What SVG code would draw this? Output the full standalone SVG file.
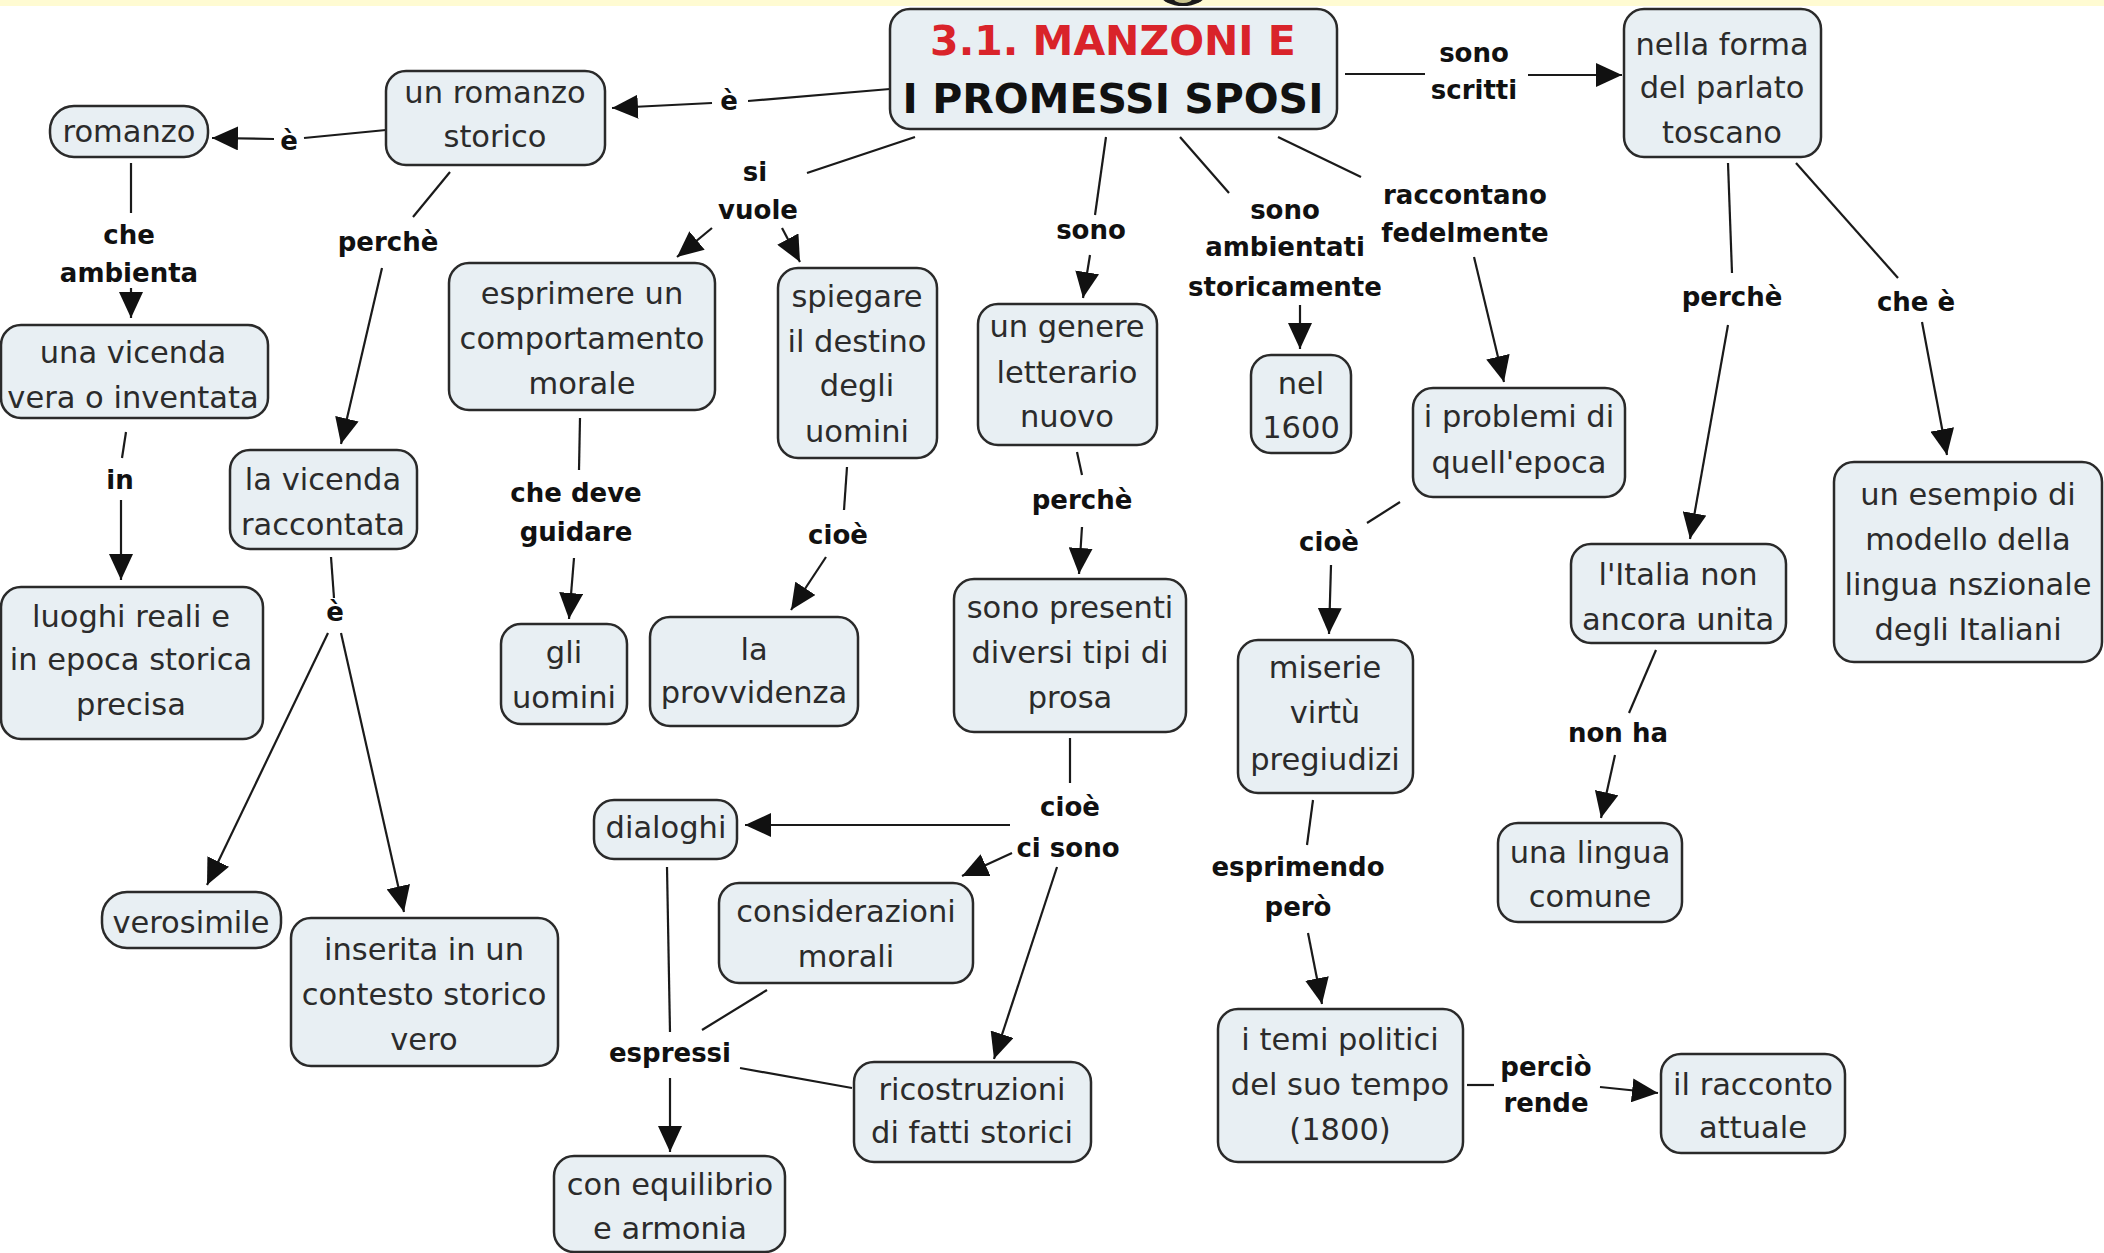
<svg xmlns="http://www.w3.org/2000/svg" width="2104" height="1253" viewBox="0 0 2104 1253">
<defs>
<style>
.node rect{fill:#E8EFF3;stroke:#2a2a2a;stroke-width:2.5}
.nt{font-family:"DejaVu Sans","Liberation Sans",sans-serif;font-size:30.5px;fill:#2b2b2b;text-anchor:middle}
.lb{font-family:"DejaVu Sans","Liberation Sans",sans-serif;font-size:26px;font-weight:bold;fill:#111;text-anchor:middle}
.title{font-family:"DejaVu Sans","Liberation Sans",sans-serif;font-size:41px;font-weight:bold;text-anchor:middle}
#connectors line{stroke:#1a1a1a;stroke-width:2.2;fill:none}
#connectors line.arr{marker-end:url(#ah)}
</style>
<marker id="ah" markerUnits="userSpaceOnUse" markerWidth="27" markerHeight="24" refX="26" refY="12" orient="auto" viewBox="0 0 27 24">
<path d="M0,0 L26,12 L0,24 Z" fill="#111"/>
</marker>
</defs>
<rect x="0" y="0" width="2104" height="1253" fill="#ffffff"/>
<rect x="0" y="0" width="2104" height="6" fill="#FFFBD2"/>
<ellipse cx="1183" cy="-5" rx="22" ry="11" fill="#1a1a1a"/>
<ellipse cx="1183" cy="-1" rx="9" ry="4" fill="#c9c48e"/>

<g id="connectors">
<line x1="890" y1="89" x2="748" y2="101"/>
<line class="arr" x1="712" y1="103" x2="612" y2="108"/>
<line x1="386" y1="130" x2="304" y2="138"/>
<line class="arr" x1="274" y1="139" x2="212" y2="138"/>
<line x1="131" y1="163" x2="131" y2="213"/>
<line class="arr" x1="131" y1="288" x2="131" y2="318"/>
<line x1="450" y1="172" x2="413" y2="217"/>
<line class="arr" x1="382" y1="268" x2="341" y2="444"/>
<line x1="126" y1="432" x2="122" y2="458"/>
<line class="arr" x1="121" y1="500" x2="121" y2="580"/>
<line x1="331" y1="557" x2="334" y2="598"/>
<line class="arr" x1="328" y1="633" x2="207" y2="885"/>
<line class="arr" x1="341" y1="633" x2="404" y2="912"/>
<line x1="915" y1="137" x2="807" y2="173"/>
<line class="arr" x1="712" y1="228" x2="677" y2="257"/>
<line class="arr" x1="782" y1="228" x2="800" y2="262"/>
<line x1="580" y1="418" x2="579" y2="470"/>
<line class="arr" x1="574" y1="558" x2="569" y2="619"/>
<line x1="847" y1="467" x2="844" y2="510"/>
<line class="arr" x1="826" y1="557" x2="791" y2="610"/>
<line x1="1106" y1="137" x2="1095" y2="215"/>
<line class="arr" x1="1090" y1="255" x2="1083" y2="298"/>
<line x1="1077" y1="452" x2="1082" y2="475"/>
<line class="arr" x1="1082" y1="527" x2="1079" y2="574"/>
<line x1="1070" y1="738" x2="1070" y2="783"/>
<line class="arr" x1="1010" y1="825" x2="745" y2="825"/>
<line class="arr" x1="1012" y1="853" x2="962" y2="876"/>
<line class="arr" x1="1057" y1="867" x2="994" y2="1059"/>
<line x1="1180" y1="137" x2="1229" y2="193"/>
<line class="arr" x1="1300" y1="305" x2="1300" y2="349"/>
<line x1="1278" y1="137" x2="1361" y2="177"/>
<line class="arr" x1="1474" y1="257" x2="1504" y2="382"/>
<line x1="1400" y1="502" x2="1367" y2="523"/>
<line class="arr" x1="1331" y1="565" x2="1329" y2="634"/>
<line x1="1313" y1="800" x2="1307" y2="845"/>
<line class="arr" x1="1308" y1="933" x2="1322" y2="1004"/>
<line x1="1467" y1="1085" x2="1494" y2="1085"/>
<line class="arr" x1="1600" y1="1087" x2="1658" y2="1093"/>
<line x1="1345" y1="74" x2="1425" y2="74"/>
<line class="arr" x1="1528" y1="75" x2="1622" y2="75"/>
<line x1="1728" y1="163" x2="1732" y2="273"/>
<line class="arr" x1="1728" y1="325" x2="1690" y2="539"/>
<line x1="1796" y1="163" x2="1898" y2="278"/>
<line class="arr" x1="1922" y1="322" x2="1947" y2="455"/>
<line x1="1656" y1="650" x2="1629" y2="713"/>
<line class="arr" x1="1615" y1="755" x2="1601" y2="818"/>
<line x1="667" y1="867" x2="670" y2="1032"/>
<line class="arr" x1="670" y1="1078" x2="670" y2="1152"/>
<line x1="767" y1="990" x2="702" y2="1030"/>
<line x1="852" y1="1088" x2="740" y2="1068"/>
</g>

<g id="labels">
<text class="lb" x="729" y="110">è</text>
<text class="lb" x="289" y="150">è</text>
<text class="lb" x="129" y="244">che</text>
<text class="lb" x="129" y="282">ambienta</text>
<text class="lb" x="388" y="251">perchè</text>
<text class="lb" x="120" y="489">in</text>
<text class="lb" x="335" y="621">è</text>
<text class="lb" x="755" y="181">si</text>
<text class="lb" x="758" y="219">vuole</text>
<text class="lb" x="576" y="502">che deve</text>
<text class="lb" x="576" y="541">guidare</text>
<text class="lb" x="838" y="544">cioè</text>
<text class="lb" x="1091" y="239">sono</text>
<text class="lb" x="1082" y="509">perchè</text>
<text class="lb" x="1070" y="816">cioè</text>
<text class="lb" x="1068" y="857">ci sono</text>
<text class="lb" x="1285" y="219">sono</text>
<text class="lb" x="1285" y="256">ambientati</text>
<text class="lb" x="1285" y="296">storicamente</text>
<text class="lb" x="1465" y="204">raccontano</text>
<text class="lb" x="1465" y="242">fedelmente</text>
<text class="lb" x="1474" y="62">sono</text>
<text class="lb" x="1474" y="99">scritti</text>
<text class="lb" x="1732" y="306">perchè</text>
<text class="lb" x="1916" y="311">che è</text>
<text class="lb" x="1329" y="551">cioè</text>
<text class="lb" x="1618" y="742">non ha</text>
<text class="lb" x="1298" y="876">esprimendo</text>
<text class="lb" x="1298" y="916">però</text>
<text class="lb" x="670" y="1062">espressi</text>
<text class="lb" x="1546" y="1076">perciò</text>
<text class="lb" x="1546" y="1112">rende</text>
</g>

<g id="n-main" class="node">
<rect x="890" y="9" width="447" height="120" rx="20"/>
<text class="title" x="1113" y="55" fill="#D9232A">3.1. MANZONI E</text>
<text class="title" x="1113" y="113" fill="#111">I PROMESSI SPOSI</text>
</g>
<g id="n-romanzo-storico" class="node">
<rect x="386" y="71" width="219" height="94" rx="20"/>
<text class="nt" x="495" y="103">un romanzo</text>
<text class="nt" x="495" y="147">storico</text>
</g>
<g id="n-romanzo" class="node">
<rect x="50" y="106" width="158" height="51" rx="24"/>
<text class="nt" x="129" y="142">romanzo</text>
</g>
<g id="n-vicenda-vera" class="node">
<rect x="1" y="325" width="267" height="93" rx="20"/>
<text class="nt" x="133" y="363">una vicenda</text>
<text class="nt" x="133" y="408">vera o inventata</text>
</g>
<g id="n-luoghi" class="node">
<rect x="1" y="587" width="262" height="152" rx="20"/>
<text class="nt" x="131" y="627">luoghi reali e</text>
<text class="nt" x="131" y="670">in epoca storica</text>
<text class="nt" x="131" y="715">precisa</text>
</g>
<g id="n-vicenda-raccontata" class="node">
<rect x="230" y="450" width="187" height="99" rx="20"/>
<text class="nt" x="323" y="490">la vicenda</text>
<text class="nt" x="323" y="535">raccontata</text>
</g>
<g id="n-esprimere" class="node">
<rect x="449" y="263" width="266" height="147" rx="20"/>
<text class="nt" x="582" y="304">esprimere un</text>
<text class="nt" x="582" y="349">comportamento</text>
<text class="nt" x="582" y="394">morale</text>
</g>
<g id="n-spiegare" class="node">
<rect x="778" y="268" width="159" height="190" rx="20"/>
<text class="nt" x="857" y="307">spiegare</text>
<text class="nt" x="857" y="352">il destino</text>
<text class="nt" x="857" y="396">degli</text>
<text class="nt" x="857" y="442">uomini</text>
</g>
<g id="n-genere" class="node">
<rect x="978" y="304" width="179" height="141" rx="20"/>
<text class="nt" x="1067" y="337">un genere</text>
<text class="nt" x="1067" y="383">letterario</text>
<text class="nt" x="1067" y="427">nuovo</text>
</g>
<g id="n-1600" class="node">
<rect x="1251" y="355" width="100" height="98" rx="20"/>
<text class="nt" x="1301" y="394">nel</text>
<text class="nt" x="1301" y="438">1600</text>
</g>
<g id="n-problemi" class="node">
<rect x="1413" y="388" width="212" height="109" rx="20"/>
<text class="nt" x="1519" y="427">i problemi di</text>
<text class="nt" x="1519" y="473">quell'epoca</text>
</g>
<g id="n-forma" class="node">
<rect x="1624" y="9" width="197" height="148" rx="20"/>
<text class="nt" x="1722" y="55">nella forma</text>
<text class="nt" x="1722" y="98">del parlato</text>
<text class="nt" x="1722" y="143">toscano</text>
</g>
<g id="n-italia" class="node">
<rect x="1571" y="544" width="215" height="99" rx="20"/>
<text class="nt" x="1678" y="585">l'Italia non</text>
<text class="nt" x="1678" y="630">ancora unita</text>
</g>
<g id="n-esempio" class="node">
<rect x="1834" y="462" width="268" height="200" rx="20"/>
<text class="nt" x="1968" y="505">un esempio di</text>
<text class="nt" x="1968" y="550">modello della</text>
<text class="nt" x="1968" y="595">lingua nszionale</text>
<text class="nt" x="1968" y="640">degli Italiani</text>
</g>
<g id="n-lingua" class="node">
<rect x="1498" y="823" width="184" height="99" rx="20"/>
<text class="nt" x="1590" y="863">una lingua</text>
<text class="nt" x="1590" y="907">comune</text>
</g>
<g id="n-gli-uomini" class="node">
<rect x="501" y="624" width="126" height="100" rx="20"/>
<text class="nt" x="564" y="663">gli</text>
<text class="nt" x="564" y="708">uomini</text>
</g>
<g id="n-provvidenza" class="node">
<rect x="650" y="617" width="208" height="109" rx="20"/>
<text class="nt" x="754" y="660">la</text>
<text class="nt" x="754" y="703">provvidenza</text>
</g>
<g id="n-presenti" class="node">
<rect x="954" y="579" width="232" height="153" rx="20"/>
<text class="nt" x="1070" y="618">sono presenti</text>
<text class="nt" x="1070" y="663">diversi tipi di</text>
<text class="nt" x="1070" y="708">prosa</text>
</g>
<g id="n-miserie" class="node">
<rect x="1238" y="640" width="175" height="153" rx="20"/>
<text class="nt" x="1325" y="678">miserie</text>
<text class="nt" x="1325" y="723">virtù</text>
<text class="nt" x="1325" y="770">pregiudizi</text>
</g>
<g id="n-dialoghi" class="node">
<rect x="594" y="800" width="143" height="59" rx="20"/>
<text class="nt" x="666" y="838">dialoghi</text>
</g>
<g id="n-considerazioni" class="node">
<rect x="719" y="883" width="254" height="100" rx="20"/>
<text class="nt" x="846" y="922">considerazioni</text>
<text class="nt" x="846" y="967">morali</text>
</g>
<g id="n-ricostruzioni" class="node">
<rect x="854" y="1062" width="237" height="100" rx="20"/>
<text class="nt" x="972" y="1100">ricostruzioni</text>
<text class="nt" x="972" y="1143">di fatti storici</text>
</g>
<g id="n-equilibrio" class="node">
<rect x="554" y="1156" width="231" height="96" rx="20"/>
<text class="nt" x="670" y="1195">con equilibrio</text>
<text class="nt" x="670" y="1239">e armonia</text>
</g>
<g id="n-verosimile" class="node">
<rect x="102" y="892" width="179" height="56" rx="25"/>
<text class="nt" x="191" y="933">verosimile</text>
</g>
<g id="n-inserita" class="node">
<rect x="291" y="918" width="267" height="148" rx="20"/>
<text class="nt" x="424" y="960">inserita in un</text>
<text class="nt" x="424" y="1005">contesto storico</text>
<text class="nt" x="424" y="1050">vero</text>
</g>
<g id="n-temi" class="node">
<rect x="1218" y="1009" width="245" height="153" rx="20"/>
<text class="nt" x="1340" y="1050">i temi politici</text>
<text class="nt" x="1340" y="1095">del suo tempo</text>
<text class="nt" x="1340" y="1140">(1800)</text>
</g>
<g id="n-racconto" class="node">
<rect x="1661" y="1054" width="184" height="99" rx="20"/>
<text class="nt" x="1753" y="1095">il racconto</text>
<text class="nt" x="1753" y="1138">attuale</text>
</g>
</svg>
